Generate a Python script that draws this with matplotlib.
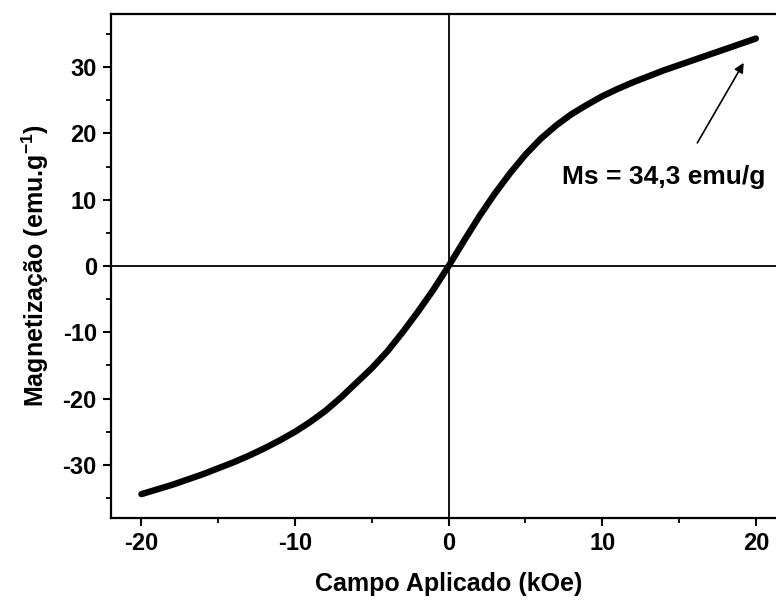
import matplotlib
matplotlib.use("Agg")
import matplotlib.pyplot as plt
from matplotlib.ticker import MultipleLocator

plt.rcParams['font.family'] = ['Liberation Sans', 'DejaVu Sans']
plt.rcParams['font.weight'] = 'bold'
plt.rcParams['axes.unicode_minus'] = False
plt.rcParams['mathtext.fontset'] = 'custom'
plt.rcParams['mathtext.rm'] = 'Liberation Sans:bold'
plt.rcParams['mathtext.it'] = 'Liberation Sans:bold'
plt.rcParams['mathtext.bf'] = 'Liberation Sans:bold'

# campo aplicado (kOe) e magnetizacao (emu/g)
campo = [-20, -19, -18, -17, -16, -15, -14, -13, -12, -11, -10, -9, -8, -7, -6,
         -5, -4, -3, -2, -1, 0, 1, 2, 3, 4, 5, 6, 7, 8, 9, 10, 11, 12, 13, 14,
         15, 16, 17, 18, 19, 20]
magn = [-34.4, -33.7, -33.0, -32.2, -31.4, -30.5, -29.6, -28.6, -27.5, -26.3,
        -25.0, -23.5, -21.8, -19.8, -17.6, -15.4, -12.9, -10.0, -6.9, -3.6,
        0.0, 3.8, 7.5, 10.9, 14.0, 16.8, 19.2, 21.2, 22.9, 24.3, 25.6, 26.7,
        27.7, 28.6, 29.5, 30.3, 31.1, 31.9, 32.7, 33.5, 34.3]

ms_texto = "Ms = 34,3 emu/g"

xticks = [-20, -10, 0, 10, 20]
yticks = [-30, -20, -10, 0, 10, 20, 30]

fig = plt.figure(figsize=(7.76, 6.04), dpi=100)
ax = fig.add_axes([0.1427, 0.1424, 0.8709, 0.8344])

ax.axhline(0, color='black', lw=1.3, zorder=1)
ax.axvline(0, color='black', lw=1.3, zorder=1)
ax.plot(campo, magn, color='black', lw=4.6, solid_capstyle='round',
        solid_joinstyle='round', zorder=3)

ax.set_xlim(-22, 22)
ax.set_ylim(-38, 38)
ax.set_xticks(xticks)
ax.set_yticks(yticks)
ax.xaxis.set_minor_locator(MultipleLocator(5))
ax.yaxis.set_minor_locator(MultipleLocator(5))
ax.tick_params(which='major', direction='out', length=6, width=1.5,
               labelsize=17, pad=4)
ax.tick_params(which='minor', direction='out', length=3.5, width=1.3)
for s in ax.spines.values():
    s.set_linewidth(1.6)

ax.set_xlabel("Campo Aplicado (kOe)", fontsize=18, fontweight='bold', labelpad=12)
ax.set_ylabel("Magnetização (emu.g$^{-1}$)", fontsize=18, fontweight='bold',
              labelpad=8)

ax.annotate("", xy=(19.3, 31.0), xytext=(16.1, 18.2),
            arrowprops=dict(arrowstyle='-|>', color='black', lw=1.2,
                            mutation_scale=14))
ax.text(7.37, 12.4, ms_texto, fontsize=19, fontweight='bold',
        ha='left', va='baseline')

fig.savefig("out.png", dpi=100)
